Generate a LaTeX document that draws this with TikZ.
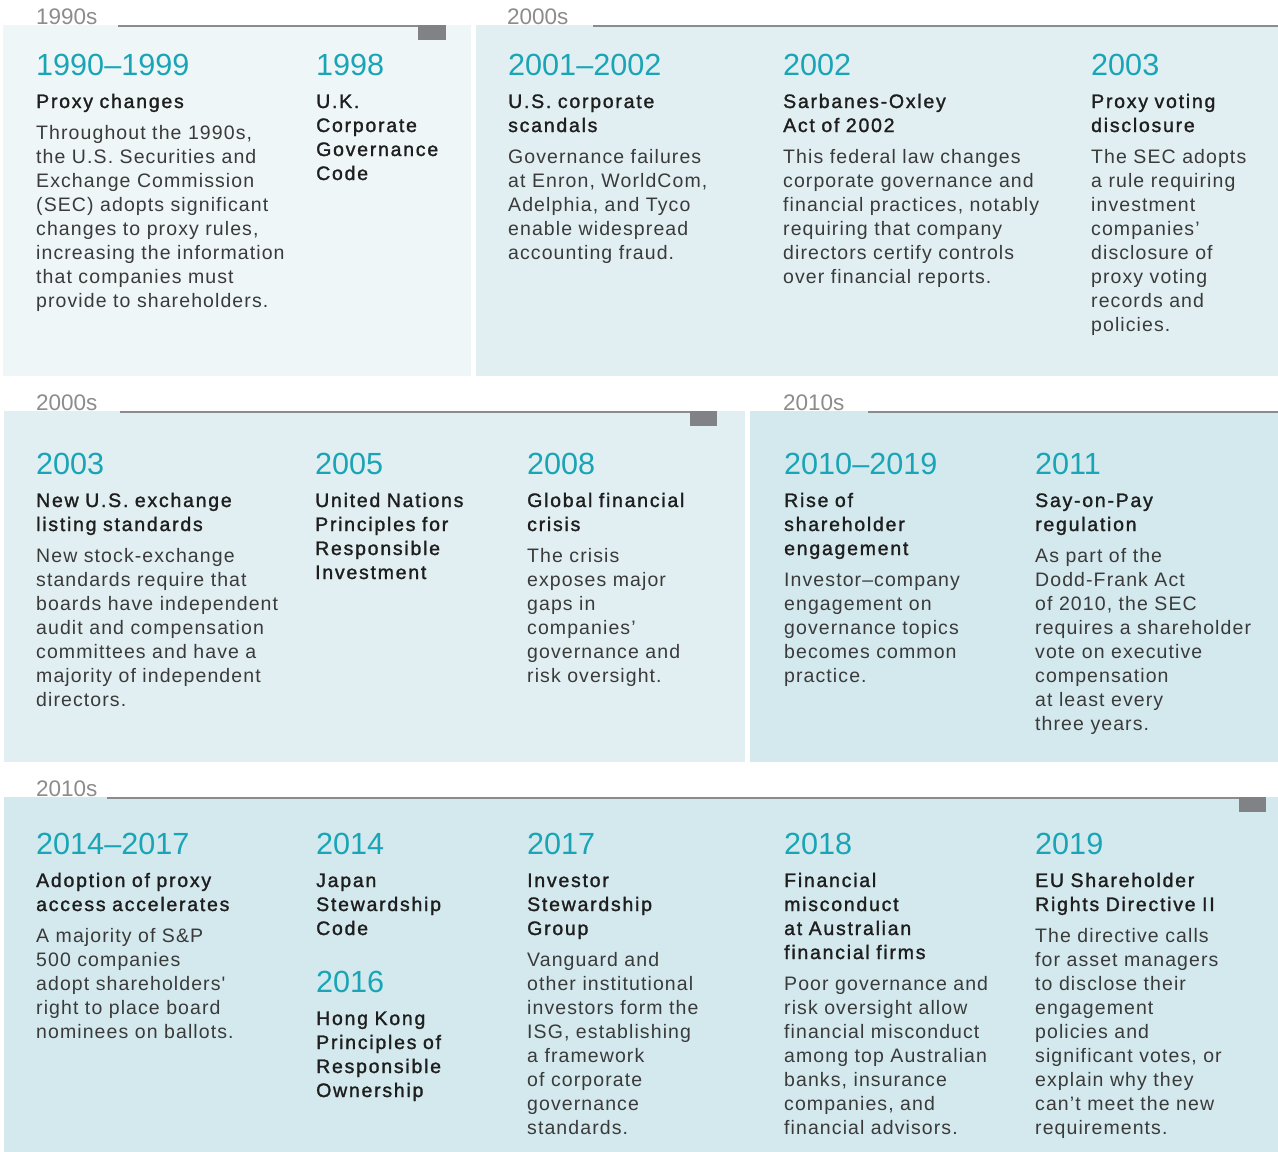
\documentclass[tikz,border=0pt]{standalone}
\usepackage{fontspec}
\setmainfont{Liberation Sans}
\newfontfamily\bodyfam[LetterSpace=5.6]{Liberation Sans}
\newfontfamily\headfam[LetterSpace=9,FakeBold=1.4]{Liberation Sans}
\newfontfamily\yearfam{Liberation Sans}
\newfontfamily\decfam{Liberation Sans}
\definecolor{panelA}{HTML}{EEF6F8}
\definecolor{panelB}{HTML}{E1EFF3}
\definecolor{panelC}{HTML}{D3E9EE}
\definecolor{tealyr}{HTML}{1AA5B6}
\definecolor{rulegray}{HTML}{8A8B8D}
\definecolor{boxgray}{HTML}{808285}
\definecolor{decgray}{HTML}{8C8C8C}
\definecolor{bodytxt}{HTML}{3A3A3A}
\definecolor{headtxt}{HTML}{1E1E1E}
\tikzset{
  yr/.style={anchor=base west, inner sep=0pt, text=tealyr, font=\yearfam\fontsize{30.6}{34}\selectfont},
  hd/.style={anchor=base west, inner sep=0pt, align=left, text width=330pt, text=headtxt, font=\headfam\fontsize{19.5}{24}\selectfont},
  bd/.style={anchor=base west, inner sep=0pt, align=left, text width=330pt, text=bodytxt, font=\bodyfam\fontsize{19.5}{24}\selectfont},
  dec/.style={anchor=base west, inner sep=0pt, text=decgray, font=\decfam\fontsize{22.5}{24}\selectfont},
  rule/.style={draw=rulegray, line width=2.6pt},
  tab/.style={fill=boxgray}
}
\begin{document}
\begin{tikzpicture}[x=1pt,y=-1pt]
\useasboundingbox (0,0) rectangle (1278,1152);
% panels
\fill[panelA] (3,25) rectangle (471,376);
\fill[panelB] (476,25) rectangle (1278,376);
\fill[panelB] (4,411) rectangle (745,762);
\fill[panelC] (750,411) rectangle (1278,762);
\fill[panelC] (4,797) rectangle (1278,1152);
% rules and tabs
\draw[rule] (118,26) -- (446,26);
\fill[tab] (418,25) rectangle (446,40);
\draw[rule] (593,26) -- (1278,26);
\draw[rule] (120,412) -- (717,412);
\fill[tab] (690,411) rectangle (717,425.5);
\draw[rule] (868,412) -- (1278,412);
\draw[rule] (107,798) -- (1266,798);
\fill[tab] (1239,797) rectangle (1266,812);
% decade labels
\node[dec] (d1) at (36,24) {1990s};
\node[dec] (d2) at (507,24) {2000s};
\node[dec] (d3) at (36,410) {2000s};
\node[dec] (d4) at (783,410) {2010s};
\node[dec] (d5) at (36,796) {2010s};
% ---------- Row 1 ----------
\node[yr] (y11) at (36,75) {1990–1999};
\node[hd] (h11) at (36,108) {Proxy changes};
\node[bd] (b11) at (36,139) {Throughout the 1990s,\\the U.S. Securities and\\Exchange Commission\\(SEC) adopts significant\\changes to proxy rules,\\increasing the information\\that companies must\\provide to shareholders.};
\node[yr] (y12) at (316,75) {1998};
\node[hd] (h12) at (316,108) {U.K.\\Corporate\\Governance\\Code};
\node[yr] (y13) at (508,75) {2001–2002};
\node[hd] (h13) at (508,108) {U.S. corporate\\scandals};
\node[bd] (b13) at (508,163) {Governance failures\\at Enron, WorldCom,\\Adelphia, and Tyco\\enable widespread\\accounting fraud.};
\node[yr] (y14) at (783,75) {2002};
\node[hd] (h14) at (783,108) {Sarbanes-Oxley\\Act of 2002};
\node[bd] (b14) at (783,163) {This federal law changes\\corporate governance and\\financial practices, notably\\requiring that company\\directors certify controls\\over financial reports.};
\node[yr] (y15) at (1091,75) {2003};
\node[hd] (h15) at (1091,108) {Proxy voting\\disclosure};
\node[bd] (b15) at (1091,163) {The SEC adopts\\a rule requiring\\investment\\companies’\\disclosure of\\proxy voting\\records and\\policies.};
% ---------- Row 2 ----------
\node[yr] (y21) at (36,474) {2003};
\node[hd] (h21) at (36,507) {New U.S. exchange\\listing standards};
\node[bd] (b21) at (36,562) {New stock-exchange\\standards require that\\boards have independent\\audit and compensation\\committees and have a\\majority of independent\\directors.};
\node[yr] (y22) at (315,474) {2005};
\node[hd] (h22) at (315,507) {United Nations\\Principles for\\Responsible\\Investment};
\node[yr] (y23) at (527,474) {2008};
\node[hd] (h23) at (527,507) {Global financial\\crisis};
\node[bd] (b23) at (527,562) {The crisis\\exposes major\\gaps in\\companies’\\governance and\\risk oversight.};
\node[yr] (y24) at (784,474) {2010–2019};
\node[hd] (h24) at (784,507) {Rise of\\shareholder\\engagement};
\node[bd] (b24) at (784,586) {Investor–company\\engagement on\\governance topics\\becomes common\\practice.};
\node[yr] (y25) at (1035,474) {2011};
\node[hd] (h25) at (1035,507) {Say-on-Pay\\regulation};
\node[bd] (b25) at (1035,562) {As part of the\\Dodd-Frank Act\\of 2010, the SEC\\requires a shareholder\\vote on executive\\compensation\\at least every\\three years.};
% ---------- Row 3 ----------
\node[yr] (y31) at (36,854) {2014–2017};
\node[hd] (h31) at (36,887) {Adoption of proxy\\access accelerates};
\node[bd] (b31) at (36,942) {A majority of S\&P\\500 companies\\adopt shareholders'\\right to place board\\nominees on ballots.};
\node[yr] (y32) at (316,854) {2014};
\node[hd] (h32) at (316,887) {Japan\\Stewardship\\Code};
\node[yr] (y32b) at (316,992) {2016};
\node[hd] (h32b) at (316,1025) {Hong Kong\\Principles of\\Responsible\\Ownership};
\node[yr] (y33) at (527,854) {2017};
\node[hd] (h33) at (527,887) {Investor\\Stewardship\\Group};
\node[bd] (b33) at (527,966) {Vanguard and\\other institutional\\investors form the\\ISG, establishing\\a framework\\of corporate\\governance\\standards.};
\node[yr] (y34) at (784,854) {2018};
\node[hd] (h34) at (784,887) {Financial\\misconduct\\at Australian\\financial firms};
\node[bd] (b34) at (784,990) {Poor governance and\\risk oversight allow\\financial misconduct\\among top Australian\\banks, insurance\\companies, and\\financial advisors.};
\node[yr] (y35) at (1035,854) {2019};
\node[hd] (h35) at (1035,887) {EU Shareholder\\Rights Directive II};
\node[bd] (b35) at (1035,942) {The directive calls\\for asset managers\\to disclose their\\engagement\\policies and\\significant votes, or\\explain why they\\can’t meet the new\\requirements.};
\end{tikzpicture}
\end{document}
